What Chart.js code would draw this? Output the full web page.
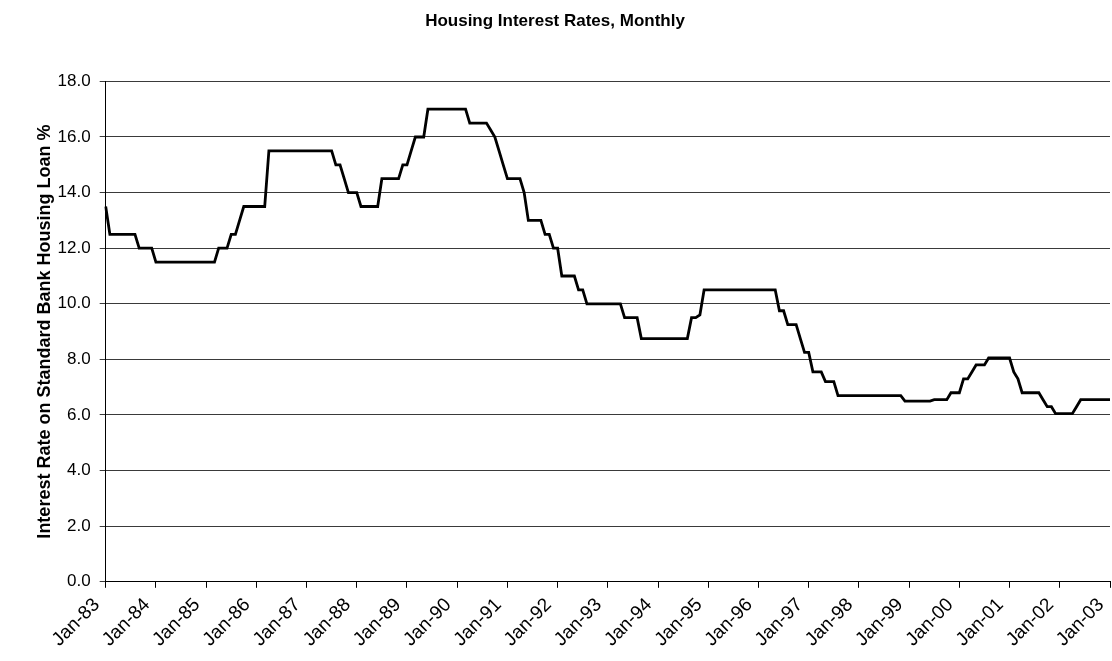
<!DOCTYPE html>
<html>
<head>
<meta charset="utf-8">
<title>Housing Interest Rates, Monthly</title>
<script src="https://cdn.jsdelivr.net/npm/chart.js@4.4.1/dist/chart.umd.min.js"></script>
<style>
    html, body { margin: 0; padding: 0; background: #fff; overflow: hidden; }
    #cadre { width: 1112px; height: 661px; position: relative; }
</style>
</head>
<body>
<div id="cadre"><canvas id="chart-taux"></canvas></div>
<script>
// ---------------------------------------------------------------------------
// DONNÉES
// ---------------------------------------------------------------------------

const MOIS   = ['Jan', 'Feb', 'Mar', 'Apr', 'May', 'Jun', 'Jul', 'Aug', 'Sep', 'Oct', 'Nov', 'Dec'];
const ANNEES = ['83', '84', '85', '86', '87', '88', '89', '90', '91', '92',
                '93', '94', '95', '96', '97', '98', '99', '00', '01', '02', '03'];

// Taux mensuel, Jan-83 -> Jan-03 (une ligne par année)
const TAUX = [
    13.5, 12.5, 12.5, 12.5, 12.5, 12.5, 12.5, 12.5, 12.0, 12.0, 12.0, 12.0,   // 83
    11.5, 11.5, 11.5, 11.5, 11.5, 11.5, 11.5, 11.5, 11.5, 11.5, 11.5, 11.5,   // 84
    11.5, 11.5, 11.5, 12.0, 12.0, 12.0, 12.5, 12.5, 13.0, 13.5, 13.5, 13.5,   // 85
    13.5, 13.5, 13.5, 15.5, 15.5, 15.5, 15.5, 15.5, 15.5, 15.5, 15.5, 15.5,   // 86
    15.5, 15.5, 15.5, 15.5, 15.5, 15.5, 15.5, 15.0, 15.0, 14.5, 14.0, 14.0,   // 87
    14.0, 13.5, 13.5, 13.5, 13.5, 13.5, 14.5, 14.5, 14.5, 14.5, 14.5, 15.0,   // 88
    15.0, 15.5, 16.0, 16.0, 16.0, 17.0, 17.0, 17.0, 17.0, 17.0, 17.0, 17.0,   // 89
    17.0, 17.0, 17.0, 16.5, 16.5, 16.5, 16.5, 16.5, 16.25, 16.0, 15.5, 15.0,  // 90
    14.5, 14.5, 14.5, 14.5, 14.0, 13.0, 13.0, 13.0, 13.0, 12.5, 12.5, 12.0,   // 91
    12.0, 11.0, 11.0, 11.0, 11.0, 10.5, 10.5, 10.0, 10.0, 10.0, 10.0, 10.0,   // 92
    10.0, 10.0, 10.0, 10.0, 9.5, 9.5, 9.5, 9.5, 8.75, 8.75, 8.75, 8.75,       // 93
    8.75, 8.75, 8.75, 8.75, 8.75, 8.75, 8.75, 8.75, 9.5, 9.5, 9.6, 10.5,      // 94
    10.5, 10.5, 10.5, 10.5, 10.5, 10.5, 10.5, 10.5, 10.5, 10.5, 10.5, 10.5,   // 95
    10.5, 10.5, 10.5, 10.5, 10.5, 9.75, 9.75, 9.25, 9.25, 9.25, 8.75, 8.25,   // 96
    8.25, 7.55, 7.55, 7.55, 7.2, 7.2, 7.2, 6.7, 6.7, 6.7, 6.7, 6.7,           // 97
    6.7, 6.7, 6.7, 6.7, 6.7, 6.7, 6.7, 6.7, 6.7, 6.7, 6.7, 6.5,               // 98
    6.5, 6.5, 6.5, 6.5, 6.5, 6.5, 6.55, 6.55, 6.55, 6.55, 6.8, 6.8,           // 99
    6.8, 7.3, 7.3, 7.55, 7.8, 7.8, 7.8, 8.05, 8.05, 8.05, 8.05, 8.05,         // 00
    8.05, 7.55, 7.3, 6.8, 6.8, 6.8, 6.8, 6.8, 6.55, 6.3, 6.3, 6.05,           // 01
    6.05, 6.05, 6.05, 6.05, 6.3, 6.55, 6.55, 6.55, 6.55, 6.55, 6.55, 6.55,    // 02
    6.55                                                                      // 03
];

const Y_MIN  = 0;
const Y_MAX  = 18;
const Y_PAS  = 2;

const TITRE       = 'Housing Interest Rates, Monthly';
const TITRE_AXE_Y = 'Interest Rate on Standard Bank Housing Loan %';

// Libellés mensuels « Jan-83 » ... « Jan-03 »
const LIBELLES = [];
ANNEES.forEach((a, i) => {
    MOIS.forEach((m, j) => {
        if (i === ANNEES.length - 1 && j > 0) return;
        LIBELLES.push(`${m}-${a}`);
    });
});

// ---------------------------------------------------------------------------
// GRAPHIQUE
// ---------------------------------------------------------------------------

const POLICE = "'Liberation Sans', Arial, sans-serif";

new Chart(document.getElementById('chart-taux'), {
    type: 'line',
    data: {
        labels: LIBELLES,
        datasets: [{
            data:        TAUX,
            borderColor: '#000',
            borderWidth: 2.8,
            pointRadius: 0,
            tension:     0,
            fill:        false,
        }],
    },
    options: {
        responsive:          true,
        maintainAspectRatio: false,
        animation:           false,
        layout: { padding: { top: 3, right: 2, bottom: 4, left: 0 } },
        plugins: {
            legend:  { display: false },
            tooltip: { enabled: false },
            title: {
                display: true,
                text:    TITRE,
                color:   '#000',
                font:    { family: POLICE, size: 17, weight: 'bold' },
                padding: { top: 8, bottom: 50 },
            },
        },
        scales: {
            x: {
                type:   'category',
                offset: false,
                grid: {
                    display:         true,
                    drawOnChartArea: false,
                    drawTicks:       true,
                    tickLength:      6,
                    color:           '#000',
                },
                border: { display: true, color: '#000', width: 1 },
                ticks: {
                    autoSkip:    false,
                    minRotation: 45,
                    maxRotation: 45,
                    padding:     6,
                    labelOffset: -9,
                    color:       '#000',
                    font:        { family: POLICE, size: 19 },
                    callback: function(val) {
                        const label = this.getLabelForValue(val);
                        return label.startsWith('Jan') ? label : null;
                    },
                },
                // le dernier libellé pivoté ne doit pas réduire la zone de tracé
                afterFit: s => { s.paddingRight = 0; },
            },
            y: {
                min: Y_MIN,
                max: Y_MAX,
                grid: {
                    color:      '#3a3a3a',
                    lineWidth:  1,
                    tickLength: 6,
                },
                border: { display: true, color: '#000', width: 1 },
                ticks: {
                    stepSize: Y_PAS,
                    padding:  9,
                    color:    '#000',
                    font:     { family: POLICE, size: 17 },
                    callback: v => v.toFixed(1),
                },
                title: {
                    display: true,
                    text:    TITRE_AXE_Y,
                    color:   '#000',
                    font:    { family: POLICE, size: 18, weight: 'bold' },
                    padding: { top: 34, bottom: -7 },
                },
            },
        },
    },
});
</script>
</body>
</html>
